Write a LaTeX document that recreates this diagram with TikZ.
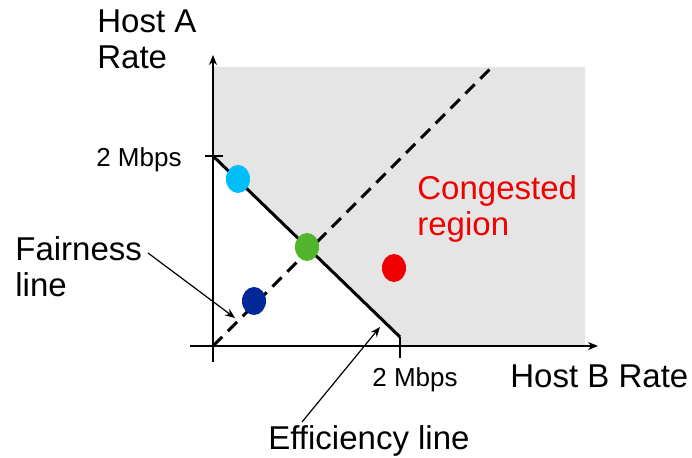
\documentclass[tikz,border=0pt]{standalone}
\usepackage{fontspec}
\setmainfont{Liberation Sans}
\usetikzlibrary{positioning,arrows.meta,shapes.geometric}
\definecolor{regiongray}{RGB}{229,229,229}
\definecolor{skyblue}{RGB}{0,190,250}
\definecolor{okgreen}{RGB}{80,180,45}
\definecolor{navyblue}{RGB}{0,40,150}
\definecolor{hotred}{RGB}{240,0,0}
\tikzset{
  axisline/.style={line width=0.75pt, -{Stealth[length=5pt,width=4pt]}},
  tickline/.style={line width=0.75pt},
  effline/.style={line width=1.5pt},
  fairline/.style={line width=1.5pt, dash pattern=on 6.5pt off 4pt},
  pointer/.style={-{Stealth[length=5pt,width=4pt]}, line width=0.6pt},
  dot/.style={ellipse, inner sep=0pt, minimum width=12pt, minimum height=14pt},
  biglabel/.style={font=\fontsize{16.5}{18}\selectfont, align=left, inner sep=0pt},
  smalllabel/.style={font=\fontsize{13}{15}\selectfont, inner sep=0pt}
}
\begin{document}
\begin{tikzpicture}[x=0.5pt, y=-0.5pt]
      \useasboundingbox (0,0) rectangle (692,458);
      \coordinate (ytick) at (213,156);
      \coordinate (xtick) at (400,337);
      \coordinate (origin) at (213,346);
      \coordinate (fairtop) at (492,67);
      % congested region, above the efficiency line
      \fill[regiongray] (213,67) -- (585,67) -- (585,346) -- (400,346)
        -- (xtick) -- (ytick) -- cycle;
      % efficiency and fairness lines
      \draw[effline] (ytick) -- (xtick);
      \draw[fairline] (origin) -- (fairtop);
      % axes
      \coordinate (ybot) at (213,362);
      \coordinate (ytop) at (213,55);
      \coordinate (xleft) at (190,346);
      \coordinate (xright) at (598,346);
      \draw[axisline] (ybot) -- (ytop);
      \draw[axisline] (xleft) -- (xright);
      \draw[tickline] (205,156) -- (223,156);
      \draw[tickline] (xtick) -- (400,358);
      % operating points
      \node[dot, fill=skyblue] (ptup) at (238,179) {};
      \node[dot, fill=okgreen] (ptopt) at (307,247) {};
      \node[dot, fill=navyblue] (ptlow) at (254,301) {};
      \node[dot, fill=hotred] (ptcong) at (394,268) {};
      % labels
      \node[biglabel, anchor=north west] (hosta) at (97,9) {Host A\\Rate};
      \node[smalllabel, anchor=base east] (ympbs) at (182,167) {2 Mbps};
      \node[smalllabel, anchor=base west] (xmbps) at (372,387) {2 Mbps};
      \node[biglabel, anchor=base west] (hostb) at (510,388) {Host B Rate};
      \node[biglabel, anchor=north west] (fair) at (15,236) {Fairness\\line};
      \node[biglabel, anchor=north west, text=hotred] (cong) at (417,175) {Congested\\region};
      \node[biglabel, anchor=base west] (eff) at (268,450) {Efficiency line};
      % pointers
      \coordinate (fairtail) at (148,253);
      \coordinate (fairhead) at (235,318);
      \coordinate (efftail) at (302,422);
      \coordinate (effhead) at (380,327);
      \draw[pointer] (fairtail) -- (fairhead);
      \draw[pointer] (efftail) -- (effhead);
    \end{tikzpicture}
\end{document}
